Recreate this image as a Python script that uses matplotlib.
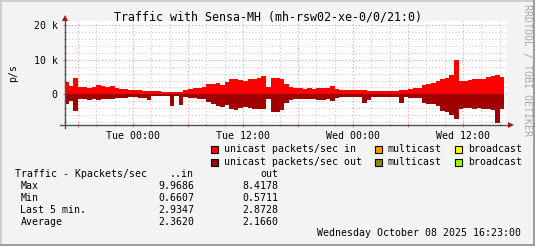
import numpy as np
import matplotlib
matplotlib.use("Agg")
import matplotlib.pyplot as plt
from matplotlib.patches import Rectangle

plt.rcParams['font.family'] = ['DejaVu Sans Mono']

# Zeitachse: Stunden relativ zu Tue 00:00, 30-min Schritte
t_start = -7.5
step = 0.5

# Kpackets/sec, unicast in (positiv) / out (negativ gezeichnet)
uni_in = [3.5, 2.4, 4.7, 2.0, 2.0, 1.9, 2.1, 2.6, 2.4, 2.2, 2.3, 1.7, 1.6, 1.5, 1.3,
          1.2, 1.2, 1.1, 1.0, 0.9, 0.9, 0.8, 0.8, 0.7, 0.7, 0.7, 1.3, 1.6, 1.7, 1.9, 2.0,
          3.0, 3.1, 3.2, 2.8, 3.5, 4.4, 4.4, 4.2, 3.8, 4.3, 4.5, 4.6, 5.4, 2.2, 4.6, 4.7, 4.3,
          3.0, 2.2, 1.8, 1.7, 1.6, 1.7, 1.6, 1.8, 1.8, 1.7, 2.3, 1.4, 1.3, 1.2, 1.2,
          1.2, 1.2, 1.2, 1.1, 1.0, 1.0, 1.0, 1.0, 1.0, 1.1, 1.2, 1.3, 1.5, 1.7, 1.9,
          2.8, 3.1, 3.4, 3.8, 4.5, 4.7, 5.5, 9.97, 4.0, 4.0, 4.2, 4.3, 4.4, 4.5, 5.0, 5.2, 5.5, 5.0]
uni_out = [2.9, 1.8, 4.8, 1.5, 1.5, 1.6, 1.5, 1.6, 1.5, 1.3, 1.3, 1.2, 1.1, 1.0, 0.9,
           0.9, 1.0, 1.0, 1.6, 0.6, 0.6, 0.6, 0.6, 3.5, 0.6, 3.0, 0.8, 1.0, 1.1, 1.3, 1.4,
           2.3, 2.7, 3.5, 3.8, 3.0, 4.3, 4.5, 4.0, 3.7, 4.0, 4.3, 4.4, 4.3, 1.3, 5.0, 5.2, 4.6,
           2.5, 1.7, 1.5, 1.5, 1.5, 1.4, 1.5, 1.6, 1.7, 1.4, 2.0, 1.0, 0.9, 0.9, 0.8,
           0.8, 0.8, 2.4, 1.7, 0.8, 0.8, 0.8, 0.8, 0.8, 0.8, 2.4, 0.9, 1.0, 1.0, 1.1,
           2.4, 2.9, 2.9, 3.5, 4.8, 5.1, 6.0, 7.3, 4.3, 4.1, 4.0, 4.2, 4.1, 4.2, 4.4, 4.6, 8.42, 4.2]

tick_pos = [0, 12, 24, 36]
tick_txt = ['Tue 00:00', 'Tue 12:00', 'Wed 00:00', 'Wed 12:00']

stat_rows = ['Max', 'Min', 'Last 5 min.', 'Average']
stat_in = ['9.9686', '0.6607', '2.9347', '2.3620']
stat_out = ['8.4178', '0.5711', '2.8728', '2.1660']

legend_items = [
    ('unicast packets/sec in', '#ff0000'), ('multicast', '#ff9900'), ('broadcast', '#ffff00'),
    ('unicast packets/sec out', '#990000'), ('multicast', '#8c8c00'), ('broadcast', '#99ff00'),
]

W, H = 535, 246
fig = plt.figure(figsize=(W / 100, H / 100), dpi=100)
fig.patch.set_facecolor('#f3f3f3')


def px(x, y):
    return x / W, 1 - y / H


ax_l, ax_r, ax_t, ax_b = 64.5, 506.5, 21, 124.5
ax = fig.add_axes([ax_l / W, 1 - ax_b / H, (ax_r - ax_l) / W, (ax_b - ax_t) / H])
ax.set_facecolor('white')

edges = t_start + step * np.arange(len(uni_in) + 1)
ax.stairs(uni_in, edges, baseline=0, fill=True, color='#ff0000', lw=0, zorder=2)
ax.stairs(-np.array(uni_out), edges, baseline=0, fill=True, color='#a00000', lw=0, zorder=2)

ax.set_xlim(-7.47, 40.73)
ax.set_ylim(-8.75, 21.25)

# Gitter
maj_x = np.arange(-6, 37, 6)
ax.set_xticks(maj_x)
ax.set_xticklabels([tick_txt[tick_pos.index(v)] if v in tick_pos else '' for v in maj_x])
ax.set_xticks(np.arange(-6, 41, 2), minor=True)
ax.set_yticks([0, 10, 20])
ax.set_yticklabels(['0', '10 k', '20 k'])
ax.set_yticks(np.arange(-8, 21, 2), minor=True)
ax.set_axisbelow(True)
ax.grid(which='minor', color='#cccccc', lw=0.8, linestyle=(0, (1, 2)))
ax.grid(which='major', color='#f0a0a0', lw=0.8, linestyle=(0, (1, 2)))

for s in ax.spines.values():
    s.set_visible(False)
ax.tick_params(axis='both', which='major', length=3, width=0.8, color='#e08080',
               direction='inout', labelsize=7.1)
ax.tick_params(axis='both', which='minor', length=2, width=0.8, color='#999999',
               direction='inout')
ax.tick_params(axis='x', pad=3)
ax.tick_params(axis='y', pad=3.5)

# Achsenlinien mit Pfeilen
axw, axh = ax_r - ax_l, ax_b - ax_t
ax.plot([-4.5 / axw, 1 + 2.5 / axw], [0, 0], transform=ax.transAxes, color='#505050',
        lw=1, clip_on=False, zorder=3)
ax.plot([0, 0], [-3.5 / axh, 1 + 2 / axh], transform=ax.transAxes, color='#505050',
        lw=1, clip_on=False, zorder=3)
ax.plot(1 + 4.5 / axw, 0, marker='>', ms=5, color='#a01818', transform=ax.transAxes,
        clip_on=False, zorder=4, mew=0)
ax.plot(0, 1 + 3 / axh, marker='^', ms=5, color='#a01818', transform=ax.transAxes,
        clip_on=False, zorder=4, mew=0)

ax.set_ylabel('p/s', fontsize=7.1, labelpad=11)

# Titel und Texte
fig.text(*px(267.5, 17), 'Traffic with Sensa-MH (mh-rsw02-xe-0/0/21:0)', fontsize=8.4,
         ha='center', va='center')
fig.text(*px(527, 70), 'RRDTOOL / TOBI OETIKER', fontsize=7.1, color='#aaaaaa',
         rotation=270, ha='center', va='center')

box_x = [210.5, 374.5, 454.5]
txt_x = [223.5, 387.7, 467.7]
row_y = [149.5, 162]
for i, (lab, col) in enumerate(legend_items):
    r, c = divmod(i, 3)
    fig.patches.append(Rectangle(px(box_x[c], row_y[r] + 3.5), 7 / W, 7 / H,
                                 transform=fig.transFigure, facecolor=col,
                                 edgecolor='black', lw=0.8))
    fig.text(*px(txt_x[c], row_y[r]), lab, fontsize=7.1, ha='left', va='center')

fig.text(*px(15, 174), 'Traffic - Kpackets/sec', fontsize=7.1, va='center')
fig.text(*px(194, 174), '..in', fontsize=7.1, va='center', ha='right')
fig.text(*px(278, 174), 'out', fontsize=7.1, va='center', ha='right')
for k, name in enumerate(stat_rows):
    y = 186 + 12 * k
    fig.text(*px(20.5, y), name, fontsize=7.1, va='center')
    fig.text(*px(194, y), stat_in[k], fontsize=7.1, va='center', ha='right')
    fig.text(*px(278, y), stat_out[k], fontsize=7.1, va='center', ha='right')

fig.text(*px(521, 233.5), 'Wednesday October 08 2025 16:23:00', fontsize=7.1,
         va='center', ha='right')

# Rahmen
fig.patches.append(Rectangle((0, 1 - 2 / H), 1, 2 / H, transform=fig.transFigure,
                             color='#cfcfcf', lw=0))
fig.patches.append(Rectangle((0, 0), 2 / W, 1, transform=fig.transFigure,
                             color='#cfcfcf', lw=0))
fig.patches.append(Rectangle((0, 0), 1, 2 / H, transform=fig.transFigure,
                             color='#9e9e9e', lw=0))
fig.patches.append(Rectangle((1 - 2 / W, 0), 2 / W, 1, transform=fig.transFigure,
                             color='#9e9e9e', lw=0))

fig.savefig('out.png', dpi=100, facecolor=fig.get_facecolor())
